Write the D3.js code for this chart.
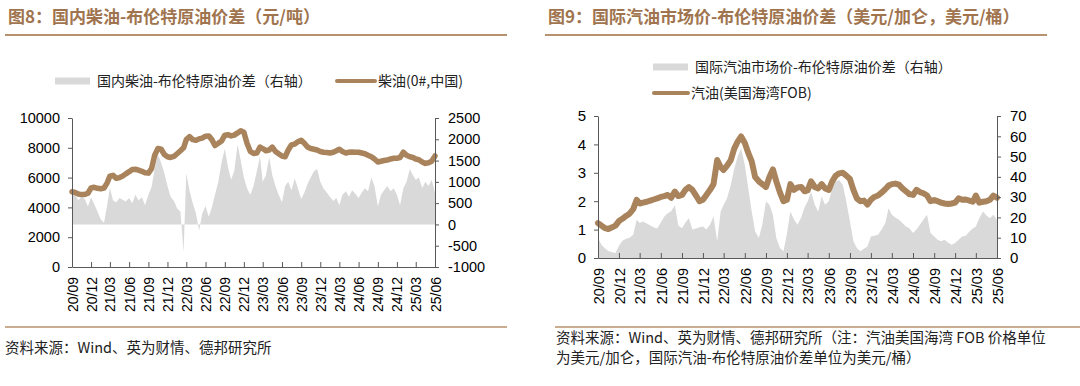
<!DOCTYPE html>
<html>
<head>
<meta charset="utf-8">
<script src="https://cdn.jsdelivr.net/npm/d3@7"></script>
<style>
  body { margin: 0; background: #fff; }
  svg text { font-family: "Liberation Sans", Arial, "Noto Sans CJK SC", sans-serif; }
  .cjk { font-family: "Noto Sans CJK SC", "Liberation Sans", sans-serif; }
</style>
</head>
<body>
<svg id="chart" width="1080" height="386"></svg>
<script>
// quarterly tick labels, shared by both panels
const tickLabels = ['20/09','20/12','21/03','21/06','21/09','21/12','22/03','22/06','22/09','22/12',
  '23/03','23/06','23/09','23/12','24/03','24/06','24/09','24/12','25/03','25/06'];

// semi-monthly readings, 2020-09-01 .. 2025-06-01 (1st and 16th of each month)
const dieselPrice = [
  5050,5000,4900,4860,4870,4950,5300,5350,
  5280,5250,5300,5650,6100,6150,5950,6000,6100,6250,6400,6550,6560,6500,6420,6320,6300,6600,7500,7950,7900,7550,7400,7350,
  7420,7600,7800,8000,8550,8750,8550,8500,8600,8650,8780,8800,8550,8150,8300,8450,8850,8880,8800,8850,9000,9150,9050,8300,
  7750,7620,7650,8050,7950,7800,7850,8050,7750,7600,7450,7400,7850,8200,8250,8400,8500,8300,8050,7950,7900,7850,7750,7700,
  7680,7650,7700,7800,7900,7750,7650,7700,7720,7700,7700,7650,7600,7500,7400,7250,7050,7100,7150,7180,7250,7300,7300,7350,
  7700,7500,7400,7350,7250,7200,7050,6950,7000,7100,7450
];
const dieselSpread = [
  780,700,560,650,600,420,640,480,
  300,120,40,450,860,560,520,620,580,540,620,500,700,560,640,450,700,880,1300,1650,1450,1200,900,650,
  550,380,300,-650,1200,800,500,260,-150,250,430,180,400,700,1000,1450,1780,1350,1050,1250,1880,1500,1100,850,
  700,900,1250,1600,1000,1150,1580,1150,900,700,520,900,1000,800,1080,850,600,750,950,1100,1250,1300,1000,850,
  750,650,550,620,450,700,780,650,800,720,620,750,850,780,1100,900,420,700,800,900,780,850,700,450,
  850,1000,1300,1150,1050,1100,850,1000,900,1050,750
];
const gasolinePrice = [
  1.23,1.14,1.05,1.02,1.08,1.14,1.30,1.38,
  1.48,1.56,1.72,2.05,1.92,1.95,1.98,2.02,2.06,2.10,2.15,2.18,2.22,2.12,2.34,2.18,2.22,2.40,2.50,2.40,2.20,2.00,2.05,2.22,
  2.40,2.60,3.45,3.20,3.10,3.25,3.45,3.85,4.10,4.28,4.05,3.70,3.40,2.85,2.70,2.60,2.50,2.85,3.12,2.70,2.30,2.00,2.05,2.60,
  2.40,2.48,2.50,2.35,2.38,2.70,2.50,2.45,2.60,2.45,2.40,2.70,2.90,2.98,3.00,2.90,2.78,2.40,2.10,2.00,2.02,1.88,2.05,2.15,
  2.20,2.30,2.42,2.55,2.60,2.62,2.58,2.45,2.35,2.25,2.22,2.40,2.32,2.28,2.20,2.00,2.04,2.00,1.95,1.92,1.90,1.92,1.95,2.10,
  2.05,2.06,2.02,1.98,2.20,1.95,1.98,2.00,2.05,2.20,2.12
];
const gasolineSpread = [
  9.8,6.5,4.8,3.5,2.8,2.5,6.0,8.5,
  9.5,10.0,11.5,18.8,17.2,18.0,17.0,16.0,15.2,14.5,17.5,20.5,22.0,23.0,26.0,16.0,14.7,17.5,19.6,14.0,14.5,15.2,15.5,14.0,
  16.5,20.5,8.2,22.9,26.2,29.5,36.0,44.0,50.0,54.0,45.8,34.4,22.9,13.1,9.8,16.4,27.8,26.2,21.3,9.8,4.9,3.3,12.0,22.9,
  18.8,16.4,20.0,25.0,27.8,32.7,26.2,22.9,30.3,26.2,28.0,34.4,37.6,38.5,36.0,27.8,18.0,8.2,4.9,3.3,4.5,5.7,10.6,11.0,
  11.5,13.9,17.0,24.5,21.3,20.0,18.8,17.2,15.5,14.7,12.3,14.0,16.4,18.8,21.3,12.3,10.6,9.0,8.2,9.0,7.5,6.5,7.4,9.0,
  10.6,11.0,13.1,14.5,15.5,19.6,22.9,21.0,19.6,21.3,18.8
];

const dates = dieselPrice.map((_, i) => new Date(2020, 8 + Math.floor(i / 2), i % 2 ? 16 : 1));
const tickDates = tickLabels.map(s => new Date(2000 + +s.slice(0, 2), +s.slice(3) - 1, 1));

const brown = '#a9835b';
const areaGray = '#d9d9d9';
const titleColor = '#a0744e';
const ruleColor = '#b8916f';
const axisColor = '#595959';

const svg = d3.select('#chart');
const plain = d => String(d);

function drawPanel(o) {
  const x = d3.scaleTime().domain([dates[0], dates[dates.length - 1]]).range([o.x0, o.x1]);
  const yL = d3.scaleLinear().domain(o.leftDomain).range([o.y1, o.y0]);
  const yR = d3.scaleLinear().domain(o.rightDomain).range([o.y1, o.y0]);
  const g = svg.append('g');

  // spread area (right axis)
  g.append('path')
    .datum(o.spread)
    .attr('fill', areaGray)
    .attr('d', d3.area()
      .x((d, i) => x(dates[i]))
      .y0(yR(0))
      .y1(d => yR(d)));

  // price line (left axis)
  g.append('path')
    .datum(o.price)
    .attr('fill', 'none')
    .attr('stroke', brown)
    .attr('stroke-width', o.lineWidth)
    .attr('stroke-linejoin', 'round')
    .attr('stroke-linecap', 'round')
    .attr('d', d3.line()
      .x((d, i) => x(dates[i]))
      .y(d => yL(d)));

  const left = g.append('g').attr('transform', `translate(${o.x0},0)`)
    .call(d3.axisLeft(yL).tickValues(o.leftTicks).tickFormat(plain).tickSize(4).tickPadding(8).tickSizeOuter(0));
  const right = g.append('g').attr('transform', `translate(${o.x1},0)`)
    .call(d3.axisRight(yR).tickValues(o.rightTicks).tickFormat(plain).tickSize(4).tickPadding(9).tickSizeOuter(0));
  const bottom = g.append('g').attr('transform', `translate(0,${o.y1})`)
    .call(d3.axisBottom(x).tickValues(tickDates).tickFormat((d, i) => tickLabels[i]).tickSize(-5).tickSizeOuter(0));

  [left, right, bottom].forEach(a => {
    a.select('.domain').attr('stroke', axisColor);
    a.selectAll('.tick line').attr('stroke', axisColor);
    a.selectAll('text').attr('fill', '#000').attr('font-size', o.fontSize);
  });
  bottom.selectAll('text')
    .attr('transform', 'rotate(-90)')
    .attr('text-anchor', 'end')
    .attr('x', -o.labelGap)
    .attr('y', 0)
    .attr('dy', '0.36em')
    .attr('font-size', o.xFontSize);
}

// ---- titles and rules
function header(x, w, label) {
  svg.append('text').attr('class', 'cjk').attr('x', x).attr('y', 17).attr('dy', '0.36em')
    .attr('font-size', 17).attr('font-weight', 'bold').attr('fill', titleColor).text(label);
  svg.append('line').attr('x1', x - 3).attr('x2', x - 3 + w).attr('y1', 35).attr('y2', 35)
    .attr('stroke', ruleColor).attr('stroke-width', 2);
}
header(8, 502, '图8：国内柴油-布伦特原油价差（元/吨）');
header(548, 502, '图9：国际汽油市场价-布伦特原油价差（美元/加仑，美元/桶）');

// ---- legends
function legendArea(x, y, label) {
  svg.append('rect').attr('x', x).attr('y', y - 3.5).attr('width', 35).attr('height', 7).attr('fill', areaGray);
  svg.append('text').attr('class', 'cjk').attr('x', x + 42).attr('y', y).attr('dy', '0.36em')
    .attr('font-size', 14).attr('fill', '#222').text(label);
}
function legendLine(x, y, w, label) {
  svg.append('line').attr('x1', x).attr('x2', x + w).attr('y1', y).attr('y2', y)
    .attr('stroke', brown).attr('stroke-width', 4).attr('stroke-linecap', 'round');
  svg.append('text').attr('class', 'cjk').attr('x', x + w + 3).attr('y', y).attr('dy', '0.36em')
    .attr('font-size', 14).attr('fill', '#222').text(label);
}
legendArea(55, 81, '国内柴油-布伦特原油价差（右轴）');
legendLine(337, 81, 38, '柴油(0#,中国)');
legendArea(653, 67, '国际汽油市场价-布伦特原油价差（右轴）');
legendLine(654, 93, 34, '汽油(美国海湾FOB)');

// ---- panels
drawPanel({
  x0: 72, x1: 435, y0: 118, y1: 267,
  leftDomain: [0, 10000], rightDomain: [-1000, 2500],
  leftTicks: [0, 2000, 4000, 6000, 8000, 10000],
  rightTicks: [-1000, -500, 0, 500, 1000, 1500, 2000, 2500],
  price: dieselPrice, spread: dieselSpread,
  lineWidth: 5.5, fontSize: 14.5, xFontSize: 14, labelGap: 10
});
drawPanel({
  x0: 598, x1: 997, y0: 116, y1: 258,
  leftDomain: [0, 5], rightDomain: [0, 70],
  leftTicks: [0, 1, 2, 3, 4, 5],
  rightTicks: [0, 10, 20, 30, 40, 50, 60, 70],
  price: gasolinePrice, spread: gasolineSpread,
  lineWidth: 6, fontSize: 15, xFontSize: 14.5, labelGap: 10
});

// ---- footers
svg.append('line').attr('x1', 5).attr('x2', 507).attr('y1', 327).attr('y2', 327)
  .attr('stroke', ruleColor).attr('stroke-width', 1.5);
svg.append('line').attr('x1', 555).attr('x2', 1080).attr('y1', 327).attr('y2', 327)
  .attr('stroke', ruleColor).attr('stroke-width', 1.5);

function footer(x, y, label) {
  svg.append('text').attr('class', 'cjk').attr('x', x).attr('y', y).attr('dy', '0.36em')
    .attr('font-size', 14.5).attr('fill', '#222').text(label);
}
footer(5, 348, '资料来源：Wind、英为财情、德邦研究所');
footer(556, 338, '资料来源：Wind、英为财情、德邦研究所（注：汽油美国海湾 FOB 价格单位');
footer(556, 358, '为美元/加仑，国际汽油-布伦特原油价差单位为美元/桶）');
</script>
</body>
</html>
